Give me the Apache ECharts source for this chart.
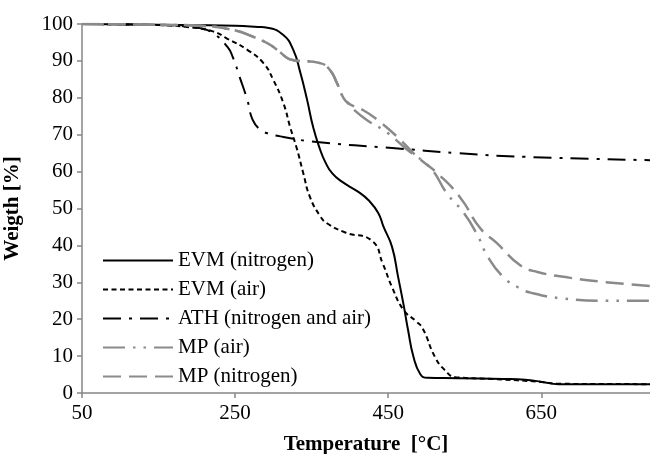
<!DOCTYPE html>
<html>
<head>
<meta charset="utf-8">
<script src="https://cdn.jsdelivr.net/npm/echarts@6/dist/echarts.min.js"></script>
<style>
  html, body { margin: 0; padding: 0; background: #fff; }
  #chart { width: 650px; height: 454px; }
</style>
</head>
<body>
<div id="chart"></div>
<script>
// --- Data: [temperature, weight %] ---
const evmNitrogen = [
  [50, 100], [150, 99.8], [250, 99.5], [280, 99.2], [292, 99], [313, 97], [326, 93],
  [335, 87], [344, 79.5], [352, 72], [361, 66], [368, 62.5], [377, 59.5], [390, 57.2],
  [411, 54.5], [424, 52.3], [437, 48.8], [444, 45], [455, 39.6], [463, 31.4], [470, 24],
  [476, 17], [483, 9.8], [492, 5.1], [501, 4.1], [541, 4], [600, 3.8], [629, 3.6],
  [651, 3], [672, 2.4], [792, 2.4]
];
const evmAir = [
  [50, 100], [150, 99.7], [187, 99.2], [221, 98], [240, 96], [266, 93], [287, 89.4],
  [300, 84.8], [313, 78.6], [322, 72], [331, 66], [339, 59.6], [348, 53], [361, 48],
  [370, 46], [394, 43.5], [429, 41.2], [443, 35], [455, 28.7], [470, 22.5], [486, 19.5],
  [495, 17.5], [511, 9.8], [524, 6.2], [538, 4.3], [586, 3.8], [651, 3], [672, 2.5], [792, 2.4]
];
const athData = [
  [50, 100], [150, 99.7], [200, 99], [221, 97.5], [240, 93.8], [247, 91], [256, 85.6],
  [266, 79.4], [273, 74], [283, 71.3], [292, 70.4], [313, 69.4], [357, 68], [455, 66.4],
  [541, 65], [629, 64], [792, 63.1]
];
const mpAir = [
  [50, 100], [150, 99.8], [204, 99.5], [247, 98.4], [274, 96.5], [292, 94.8], [305, 93],
  [318, 90.8], [326, 90.2], [361, 89.4], [374, 87.5], [383, 84], [391, 80.2], [398, 78.5],
  [404, 77], [422, 74], [449, 70.5], [475, 65.9], [505, 61], [527, 54], [548, 49],
  [566, 43], [580, 37], [600, 31.5], [620, 28.6], [636, 27.2], [679, 25.6], [736, 25], [792, 25]
];
const mpNitrogen = [
  [50, 100], [150, 99.8], [204, 99.5], [247, 98.4], [274, 96.5], [292, 94.8], [305, 93],
  [318, 90.8], [326, 90.2], [361, 89.4], [374, 87.5], [383, 84], [391, 80.2], [398, 78.5],
  [417, 76.7], [436, 74], [462, 69.4], [488, 64], [514, 59.6], [544, 53], [570, 44.7],
  [592, 40.6], [622, 34.7], [645, 32.8], [688, 31.2], [731, 30.1], [792, 29]
];
const seriesNames = ['EVM (nitrogen)', 'EVM (air)', 'ATH (nitrogen and air)', 'MP (air)', 'MP (nitrogen)'];

const chart = echarts.init(document.getElementById('chart'));
const FONT = '"Liberation Serif", "Times New Roman", serif';
const AXIS_GRAY = '#868686';
const SERIES_GRAY = '#8a8a8a';

function lineSeries(name, data, color, width, type) {
  return {
    name: name,
    type: 'line',
    data: data,
    symbol: 'none',
    smooth: 0.5,
    lineStyle: { color: color, width: width, type: type, cap: 'butt' },
    itemStyle: { color: color },
    z: 3
  };
}

chart.setOption({
  animation: false,
  backgroundColor: '#fff',
  grid: { left: 82, right: 0, top: 24, bottom: 61, containLabel: false, outerBoundsMode: 'none' },
  legend: {
    orient: 'vertical',
    left: 102,
    top: 250,
    padding: 0,
    itemWidth: 70,
    itemHeight: 14,
    itemGap: 8,
    data: seriesNames,
    itemStyle: { opacity: 0 },
    textStyle: { fontFamily: FONT, fontSize: 21, color: '#000', lineHeight: 20 }
  },
  xAxis: {
    type: 'value',
    min: 50,
    max: 792,
    interval: 200,
    name: 'Temperature  [°C]',
    nameLocation: 'middle',
    nameGap: 41,
    nameTextStyle: { fontFamily: FONT, fontSize: 21, fontWeight: 'bold', color: '#000' },
    axisLine: { lineStyle: { color: AXIS_GRAY, width: 1.5 } },
    axisTick: { length: 5, lineStyle: { color: AXIS_GRAY, width: 1.5 } },
    axisLabel: { fontFamily: FONT, fontSize: 21, color: '#000', margin: 10, showMaxLabel: false },
    splitLine: { show: false }
  },
  yAxis: {
    type: 'value',
    min: 0,
    max: 100,
    interval: 10,
    name: 'Weigth [%]',
    nameLocation: 'middle',
    nameGap: 59,
    nameRotate: 90,
    nameTextStyle: { fontFamily: FONT, fontSize: 21, fontWeight: 'bold', color: '#000' },
    axisLine: { show: true, lineStyle: { color: AXIS_GRAY, width: 1.5 } },
    axisTick: { show: true, length: 5, lineStyle: { color: AXIS_GRAY, width: 1.5 } },
    axisLabel: { fontFamily: FONT, fontSize: 21, color: '#000', margin: 9 },
    splitLine: { show: false }
  },
  series: [
    lineSeries(seriesNames[0], evmNitrogen, '#000', 2, 'solid'),
    lineSeries(seriesNames[1], evmAir, '#000', 2, [5, 3.5]),
    lineSeries(seriesNames[2], athData, '#000', 2, [18, 8, 3, 8]),
    lineSeries(seriesNames[3], mpAir, SERIES_GRAY, 2.5, [22, 8, 2.5, 8, 2.5, 8]),
    lineSeries(seriesNames[4], mpNitrogen, SERIES_GRAY, 2.5, [18, 8])
  ]
});
</script>
</body>
</html>
